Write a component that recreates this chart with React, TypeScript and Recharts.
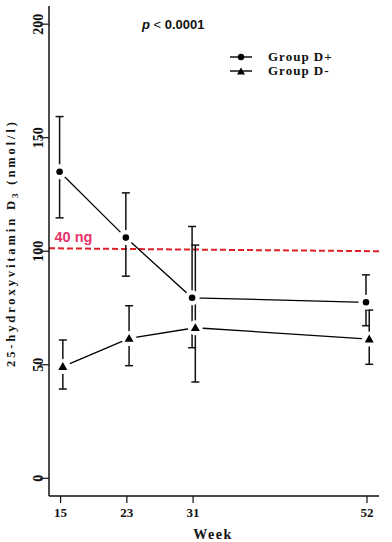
import { ComposedChart, ErrorBar, Line, ReferenceLine, XAxis, YAxis } from "recharts";

const weeks = [15, 23, 31, 52];
const dPlusMean = [135, 106, 79.5, 77.5];
const dPlusUpper = [159.3, 125.7, 110.9, 89.6];
const dPlusLower = [114.7, 89, 57.5, 67.2];
const dMinusMean = [49.2, 61.6, 66.3, 61.3];
const dMinusUpper = [60.9, 76, 102.7, 74.1];
const dMinusLower = [39.3, 49.6, 42.4, 50.2];
const yTicks = [0, 50, 100, 150, 200];
const seriesNames = ["Group D+", "Group D-"];
// threshold line (40 ng), slightly tilted in the original figure
const refStart = 101.3;
const refEnd = 100;

const X_DOMAIN: [number, number] = [13.6, 53.45];
const Y_DOMAIN: [number, number] = [-7.8, 208];
const SERIF = "'Liberation Serif', 'Times New Roman', serif";
const SANS = "'Liberation Sans', Arial, sans-serif";

const build = (mean: number[], upper: number[], lower: number[], dodge: number) =>
  weeks.map((w, i) => ({ week: w + dodge, value: mean[i], err: [mean[i] - lower[i], upper[i] - mean[i]] }));

const plusData = build(dPlusMean, dPlusUpper, dPlusLower, -0.12);
const minusData = build(dMinusMean, dMinusUpper, dMinusLower, 0.27);

const Triangle = ({ cx, cy, size = 4.5 }: { cx: number; cy: number; size?: number }) => (
  <polygon points={`${cx},${cy - size} ${cx - size},${cy + size * 0.75} ${cx + size},${cy + size * 0.75}`} fill="#000" />
);

// white halo so the connecting line stops short of each point (R type="b" look)
const halo = (p: any) => <circle key={p.index} cx={p.cx} cy={p.cy} r={7.5} fill="#fff" />;

const LegendBox = () => (
  <div style={{ position: "absolute", left: 229, top: 50, fontFamily: SERIF, fontWeight: "bold", fontSize: 13, letterSpacing: 1, color: "#111" }}>
    {seriesNames.map((name, i) => (
      <div key={name} style={{ display: "flex", alignItems: "center", height: 13.7 }}>
        <svg width={24} height={12} style={{ marginRight: 15 }}>
          <line x1={1} y1={6} x2={23} y2={6} stroke="#000" strokeWidth={1.4} />
          {i === 0 ? <circle cx={12} cy={6} r={3.2} fill="#000" /> : <Triangle cx={12} cy={6.5} size={4} />}
        </svg>
        <span>{name}</span>
      </div>
    ))}
  </div>
);

export default function App() {
  return (
    <div style={{ position: "absolute", left: 0, top: 0, width: 392, height: 542, background: "#fff" }}>
      <ComposedChart width={392} height={542} margin={{ top: 6, right: 13, left: 0, bottom: 0 }}>
        <XAxis
          xAxisId="x"
          type="number"
          dataKey="week"
          domain={X_DOMAIN}
          ticks={weeks}
          allowDataOverflow
          height={46}
          tickSize={7}
          tickMargin={5}
          axisLine={{ stroke: "#111", strokeWidth: 1.5 }}
          tickLine={{ stroke: "#111", strokeWidth: 1.2 }}
          tick={{ fontFamily: SERIF, fontWeight: "bold", fontSize: 13, fill: "#111" }}
          label={() => (
            <text x={213} y={539} textAnchor="middle" fontFamily={SERIF} fontWeight="bold" fontSize={14} fill="#111" letterSpacing={1.5}>
              Week
            </text>
          )}
        />
        <XAxis xAxisId="top" orientation="top" type="number" domain={X_DOMAIN} height={0} tick={false} tickLine={false} axisLine={{ stroke: "#111", strokeWidth: 1.5 }} />
        <YAxis
          yAxisId="y"
          type="number"
          domain={Y_DOMAIN}
          ticks={yTicks}
          allowDataOverflow
          width={49}
          tickSize={9}
          tickMargin={2}
          axisLine={{ stroke: "#111", strokeWidth: 1.5 }}
          tickLine={{ stroke: "#111", strokeWidth: 1.2 }}
          tick={{ angle: -90, textAnchor: "middle", verticalAnchor: "end", fontFamily: SERIF, fontWeight: "bold", fontSize: 14, fill: "#111" }}
          label={() => {
            const cx = 15;
            const cy = 244.5;
            return (
              <text x={cx} y={cy} transform={`rotate(-90, ${cx}, ${cy})`} textAnchor="middle" fontFamily={SERIF} fontWeight="bold" fontSize={12.5} fill="#111" textLength={245} lengthAdjust="spacing">
                25-hydroxyvitamin D<tspan fontSize={9} dy={3}>3</tspan><tspan dy={-3}> (nmol/l)</tspan>
              </text>
            );
          }}
        />
        <YAxis yAxisId="right" orientation="right" type="number" domain={Y_DOMAIN} width={0} tick={false} tickLine={false} axisLine={{ stroke: "#111", strokeWidth: 1.5 }} />
        <ReferenceLine
          xAxisId="x"
          yAxisId="y"
          segment={[{ x: X_DOMAIN[0], y: refStart }, { x: X_DOMAIN[1], y: refEnd }]}
          stroke="#e01f26"
          strokeWidth={2}
          strokeDasharray="6 3"
          label={() => (
            <text x={54.5} y={242} fontFamily={SANS} fontWeight="bold" fontSize={14.5} fill="#e8336b">
              40 ng
            </text>
          )}
        />
        {/* connecting lines with gaps around the points */}
        <Line xAxisId="x" yAxisId="y" data={plusData} dataKey="value" name={seriesNames[0]} stroke="#000" strokeWidth={1.3} isAnimationActive={false} dot={halo} activeDot={false} legendType="none" />
        <Line xAxisId="x" yAxisId="y" data={minusData} dataKey="value" name={seriesNames[1]} stroke="#000" strokeWidth={1.3} isAnimationActive={false} dot={halo} activeDot={false} legendType="none" />
        {/* markers and error bars */}
        <Line
          xAxisId="x"
          yAxisId="y"
          data={plusData}
          dataKey="value"
          name={seriesNames[0]}
          stroke="none"
          isAnimationActive={false}
          dot={{ r: 3.3, fill: "#000", stroke: "#000", strokeWidth: 0 }}
          activeDot={false}
        >
          <ErrorBar dataKey="err" direction="y" width={4} stroke="#111" strokeWidth={1.5} isAnimationActive={false} />
        </Line>
        <Line
          xAxisId="x"
          yAxisId="y"
          data={minusData}
          dataKey="value"
          name={seriesNames[1]}
          stroke="none"
          isAnimationActive={false}
          dot={(p: any) => <Triangle key={p.index} cx={p.cx} cy={p.cy} />}
          activeDot={false}
        >
          <ErrorBar dataKey="err" direction="y" width={4} stroke="#111" strokeWidth={1.5} isAnimationActive={false} />
        </Line>
      </ComposedChart>
      <LegendBox />
      <div style={{ position: "absolute", left: 142, top: 17, fontFamily: SANS, fontSize: 13, color: "#111", whiteSpace: "nowrap" }}>
        <span style={{ fontStyle: "italic", fontWeight: "bold" }}>p</span> &lt; <span style={{ fontWeight: "bold" }}>0.0001</span>
      </div>
    </div>
  );
}
